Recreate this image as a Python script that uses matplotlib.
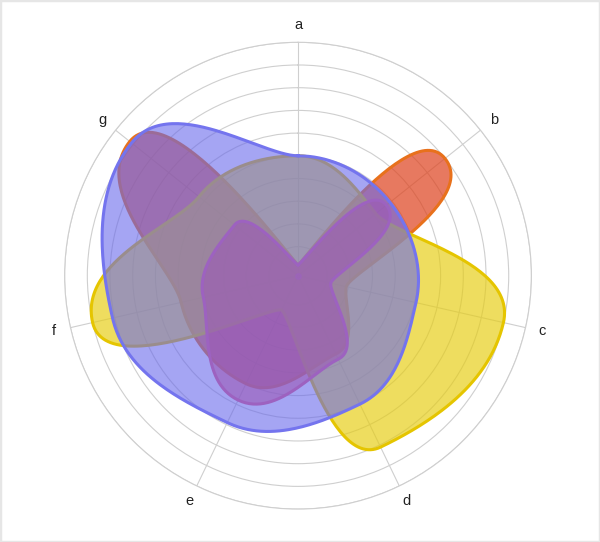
import numpy as np
import matplotlib
matplotlib.use("Agg")
import matplotlib.pyplot as plt
from matplotlib.patches import Rectangle

# ── Data ──────────────────────────────────────────────────────────────────
labels = ["a", "b", "c", "d", "e", "f", "g"]
orange = [0.2, 8.0, 1.9, 3.55, 5.0, 5.0, 9.2]
yellow = [5.0, 4.1, 9.0, 8.1, 1.4, 9.0, 5.3]
blue   = [5.0, 4.9, 5.05, 6.0, 6.9, 8.1, 9.1]
purple = [0.2, 4.7, 1.2, 3.8, 5.8, 4.0, 3.3]

RMIN, RMAX = -0.28, 10
rings = list(range(1, 11))
K = 0.3   # handle length along the ring direction, as fraction of radius

# (values, fill rgb, fill alpha, line colour)
styles = [
    (orange, (222/255, 65/255, 28/255), 0.70, "#e8711c"),
    (yellow, (230/255, 205/255, 20/255), 0.68, "#e5c500"),
    (blue,   (105/255, 105/255, 235/255), 0.60, "#7474ee"),
    (purple, (155/255, 89/255, 182/255), 0.60, "#9d62c0"),
]


def smooth_shape(vals, angles, steps=60):
    """Bezier through each spoke point, tangents follow the rings."""
    rho = np.asarray(vals, dtype=float) - RMIN
    pts = np.column_stack([rho * np.sin(angles), rho * np.cos(angles)])
    tan = np.column_stack([np.cos(angles), -np.sin(angles)]) * (K * rho)[:, None]
    n = len(rho)
    t = np.linspace(0, 1, steps, endpoint=False)[:, None]
    segs = []
    for i in range(n):
        j = (i + 1) % n
        p1, p2 = pts[i], pts[j]
        c1, c2 = p1 + tan[i], p2 - tan[j]
        segs.append((1 - t) ** 3 * p1 + 3 * (1 - t) ** 2 * t * c1
                    + 3 * (1 - t) * t ** 2 * c2 + t ** 3 * p2)
    xy = np.vstack(segs)
    xy = np.vstack([xy, xy[:1]])
    th = np.unwrap(np.arctan2(xy[:, 0], xy[:, 1]))
    return th, np.hypot(xy[:, 0], xy[:, 1]) + RMIN


angles = np.arange(len(labels)) * 2 * np.pi / len(labels)

fig = plt.figure(figsize=(6, 5.42), dpi=100)
ax = fig.add_axes([0.1077, 0.0607, 0.778, 0.8613], projection="polar")
ax.set_theta_zero_location("N")
ax.set_theta_direction(-1)
ax.set_ylim(RMIN, RMAX)

ax.set_yticks(rings)
ax.set_yticklabels([])
ax.set_xticks(angles)
ax.set_xticklabels([])
ax.grid(True, color="#cfcfcf", linewidth=0.8)
ax.spines["polar"].set_color("#cfcfcf")
ax.spines["polar"].set_linewidth(0.8)
ax.set_facecolor("white")

for ang, lab in zip(angles, labels):
    ax.text(ang, 10.75, lab, ha="center", va="center", fontsize=10.5,
            family="Liberation Sans", color="#222222", clip_on=False)

for vals, rgb, alp, lc in styles:
    th, rr = smooth_shape(vals, angles)
    ax.fill(th, rr, color=rgb, alpha=alp, lw=0, zorder=3)
    ax.plot(th, rr, color=lc, lw=2.2, zorder=3, solid_joinstyle="round")

# little hub dot in the middle
ax.plot(0, RMIN, "o", color="#9d62c0", ms=4, alpha=0.5, zorder=4)

fig.patches.append(Rectangle((0, 0), 1, 1, transform=fig.transFigure,
                             fill=False, edgecolor="#e6e6e6", lw=2.5))

fig.savefig("out.png", dpi=100)
